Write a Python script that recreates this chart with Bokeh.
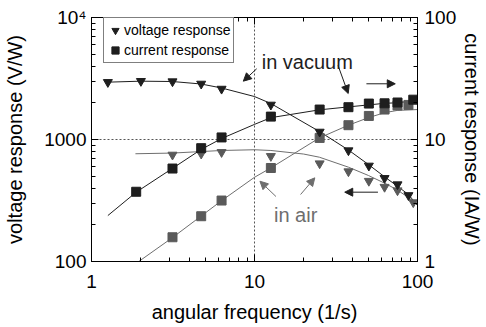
from bokeh.plotting import figure
from bokeh.models import (LogAxis, Range1d, LogScale, FixedTicker, Span, Arrow,
                          NormalHead, Label, Legend, LegendItem)
from bokeh.embed import file_html
from bokeh.resources import INLINE

# ---------------- data ----------------
# measured points (angular frequency in 1/s)
w_v_vac = [1.26, 2.01, 3.14, 4.71, 6.28, 12.6, 25.1, 37.7, 50.3, 62.8, 75.4, 88.0]
v_vac = [2950, 3010, 2990, 2860, 2600, 1925, 1156, 813, 609, 482, 428, 349]
w_v_air = [3.14, 4.71, 6.28, 12.6, 25.1, 37.7, 50.3, 62.8, 75.4, 94.2]
v_air = [749, 764, 787, 730, 636, 547, 457, 408, 382, 305]
w_i_vac = [1.88, 3.14, 4.71, 6.28, 12.6, 25.1, 37.7, 50.3, 62.8, 75.4, 94.2]
i_vac = [3.73, 5.78, 8.49, 10.4, 15.4, 17.6, 18.4, 19.7, 19.8, 20.1, 21.2]
w_i_air = [3.14, 4.71, 6.28, 12.6, 25.1, 37.7, 50.3, 62.8, 75.4, 88.0]
i_air = [1.58, 2.35, 3.16, 5.84, 10.3, 13.1, 15.6, 17.6, 19.0, 19.2]

# fitted curves
fit_w_v_vac = [1.26, 2.0, 3.14, 4.7, 6.3, 10, 12.6, 25, 37.7, 50, 63, 75, 88, 100]
fit_v_vac = [2951, 3006, 2987, 2851, 2642, 2250, 1972, 1164, 820, 624, 493, 416, 354, 288]
fit_w_v_air = [1.86, 3.14, 6.3, 10, 12.6, 20, 25, 37.7, 50, 63, 75, 100]
fit_v_air = [764, 774, 813, 824, 813, 760, 716, 593, 507, 438, 387, 297]
fit_w_i_vac = [1.26, 1.88, 3.14, 4.7, 6.3, 10, 12.6, 25, 37.7, 50, 63, 75, 94]
fit_i_vac = [2.38, 3.7, 5.8, 8.28, 10.2, 13.3, 15.1, 17.5, 18.5, 19.2, 19.8, 20.0, 20.7]
fit_w_i_air = [1.95, 3.14, 6.3, 10, 12.6, 25, 37.7, 50, 63, 75, 100]
fit_i_air = [1.0, 1.57, 3.16, 4.9, 5.85, 10.3, 13.1, 15.1, 16.6, 17.3, 17.6]

# ticks
x_ticks = [1, 10, 100]
x_tick_labels = ["1", "10", "100"]
x_minor = [2, 3, 4, 5, 6, 7, 8, 9, 20, 30, 40, 50, 60, 70, 80, 90]
yl_ticks = [100, 1000, 10000]
yl_tick_labels = ["100", "1000", "10⁴"]
yl_minor = [200, 300, 400, 500, 600, 700, 800, 900,
            2000, 3000, 4000, 5000, 6000, 7000, 8000, 9000]
yr_ticks = [1, 10, 100]
yr_tick_labels = ["1", "10", "100"]
yr_minor = x_minor

FONT = "Liberation Sans"
BLACK = "#1e1e1e"
GRAY = "#5a5a5a"
GRAY_LINE = "#6e6e6e"

p = figure(width=486, height=327, x_axis_type="log", y_axis_type="log",
           x_range=Range1d(1, 100), y_range=Range1d(100, 10000),
           output_backend="svg", toolbar_location=None,
           min_border_left=91, min_border_right=68, min_border_top=17,
           min_border_bottom=66, outline_line_color="black",
           background_fill_color="white", border_fill_color="white")
p.xgrid.visible = False
p.ygrid.visible = False
p.extra_y_ranges = {"right": Range1d(1, 100)}
p.extra_y_scales = {"right": LogScale()}


def style(ax):
    ax.axis_line_color = "black"
    ax.major_tick_line_color = "black"
    ax.minor_tick_line_color = "black"
    ax.major_tick_in = 7
    ax.major_tick_out = 0
    ax.minor_tick_in = 4
    ax.minor_tick_out = 0
    ax.major_label_text_font = FONT
    ax.major_label_text_font_size = "19px"
    ax.major_label_text_color = "black"
    ax.axis_label_text_font = FONT
    ax.axis_label_text_font_size = "20px"
    ax.axis_label_text_font_style = "normal"
    ax.axis_label_text_color = "black"


xa = p.xaxis[0]
style(xa)
xa.ticker = FixedTicker(ticks=x_ticks, minor_ticks=x_minor)
xa.major_label_overrides = dict(zip(x_ticks, x_tick_labels))
xa.axis_label = "angular frequency (1/s)"
xa.major_label_standoff = 13
xa.axis_label_standoff = 10

ya = p.yaxis[0]
style(ya)
ya.ticker = FixedTicker(ticks=yl_ticks, minor_ticks=yl_minor)
ya.major_label_overrides = dict(zip(yl_ticks, yl_tick_labels))
ya.axis_label = "voltage response (V/W)"
ya.major_label_standoff = 5
ya.axis_label_standoff = 15

ra = LogAxis(y_range_name="right",
             ticker=FixedTicker(ticks=yr_ticks, minor_ticks=yr_minor))
style(ra)
ra.major_label_overrides = dict(zip(yr_ticks, yr_tick_labels))
ra.axis_label = "current response (IA/W)"
ra.major_label_standoff = 7
ra.axis_label_standoff = 2
p.add_layout(ra, "right")

ta = LogAxis(ticker=FixedTicker(ticks=x_ticks, minor_ticks=x_minor))
style(ta)
ta.major_label_overrides = {t: "" for t in x_ticks}
ta.major_label_text_font_size = "1px"
ta.major_label_standoff = 0
p.add_layout(ta, "above")

# reference lines
p.add_layout(Span(location=10, dimension="height", line_color="#555555",
                  line_dash="2 2", line_width=1, level="underlay"))
p.add_layout(Span(location=1000, dimension="width", line_color="#555555",
                  line_dash="2 2", line_width=1, level="underlay"))

# fitted curves
p.line(fit_w_v_vac, fit_v_vac, line_color=BLACK, line_width=1)
p.line(fit_w_v_air, fit_v_air, line_color=GRAY_LINE, line_width=1)
p.line(fit_w_i_vac, fit_i_vac, line_color=BLACK, line_width=1, y_range_name="right")
p.line(fit_w_i_air, fit_i_air, line_color=GRAY_LINE, line_width=1, y_range_name="right")

# points
r_v_air = p.scatter(w_v_air, v_air, marker="inverted_triangle", size=9,
                    fill_color=GRAY, line_color=GRAY)
r_i_air = p.scatter(w_i_air, i_air, marker="square", size=9,
                    fill_color=GRAY, line_color=GRAY, y_range_name="right")
r_v_vac = p.scatter(w_v_vac, v_vac, marker="inverted_triangle", size=9,
                    fill_color=BLACK, line_color=BLACK)
r_i_vac = p.scatter(w_i_vac, i_vac, marker="square", size=9,
                    fill_color=BLACK, line_color=BLACK, y_range_name="right")

# annotations
p.add_layout(Label(x=11.07, y=4315, text="in vacuum", text_font=FONT,
                   text_font_size="20px", text_color=BLACK,
                   text_baseline="alphabetic", text_align="left"))
p.add_layout(Label(x=13.16, y=240, text="in air", text_font=FONT,
                   text_font_size="20px", text_color=GRAY_LINE,
                   text_baseline="alphabetic", text_align="left"))


def arrow(x0, y0, x1, y1, color):
    p.add_layout(Arrow(end=NormalHead(size=8, fill_color=color, line_color=color),
                       x_start=x0, y_start=y0, x_end=x1, y_end=y1,
                       line_color=color, line_width=1))


arrow(10.31, 3798, 8.54, 3006, BLACK)
arrow(32.55, 4045, 37.58, 2383, BLACK)
arrow(48.6, 2862, 73.05, 2862, BLACK)
arrow(13.54, 341, 10.80, 455, GRAY_LINE)
arrow(19.17, 354, 23.44, 485, GRAY_LINE)
arrow(57.2, 370, 35.78, 370, BLACK)

legend = Legend(items=[LegendItem(label="voltage response", renderers=[r_v_vac]),
                       LegendItem(label="current response", renderers=[r_i_vac])],
                location=(12, 198), border_line_color="black", border_line_width=1,
                background_fill_color="white", background_fill_alpha=1.0,
                label_text_font=FONT, label_text_font_size="14px",
                label_text_color="black",
                glyph_width=18, glyph_height=20, label_height=20,
                padding=2, spacing=0, label_standoff=0, margin=0)
p.add_layout(legend)

open("out.html", "w").write(file_html(p, INLINE))
